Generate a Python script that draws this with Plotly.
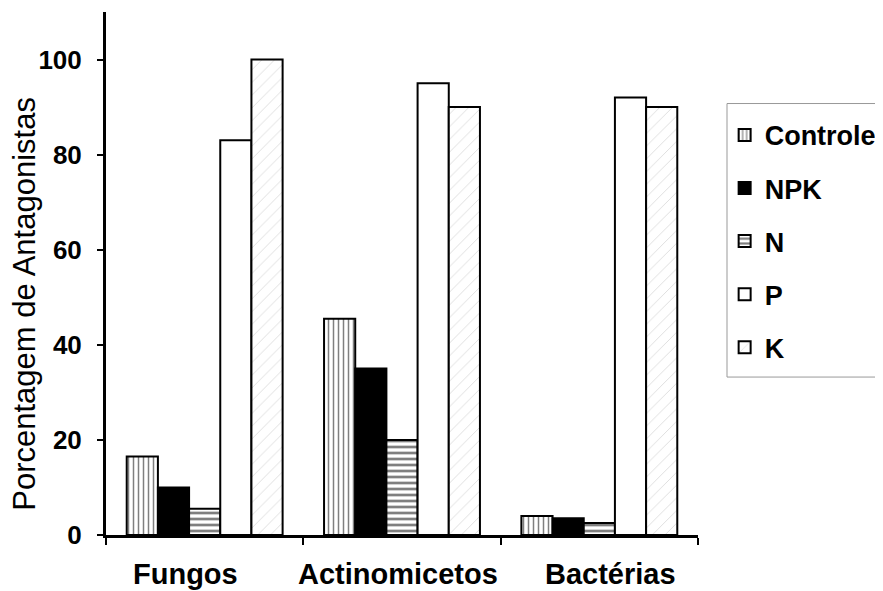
import plotly.graph_objects as go

categories = ["Fungos", "Actinomicetos", "Bactérias"]
series_names = ["Controle", "NPK", "N", "P", "K"]
controle = [16.5, 45.5, 4]
npk = [10, 35, 3.5]
n_vals = [5.5, 20, 2.5]
p_vals = [83, 95, 92]
k_vals = [100, 90, 90]
y_ticks = [0, 20, 40, 60, 80, 100]
y_title = "Porcentagem de Antagonistas"

series_values = [controle, npk, n_vals, p_vals, k_vals]
styles = [
    dict(color="white", pattern=dict(shape="|", fgcolor="black", size=5, solidity=0.3)),
    dict(color="black"),
    dict(color="white", pattern=dict(shape="-", fgcolor="black", size=6, solidity=0.45)),
    dict(color="white"),
    dict(color="white", pattern=dict(shape="/", fgcolor="#b8b8b8", size=9, solidity=0.1)),
]

FONT = "Arial, Liberation Sans, sans-serif"

fig = go.Figure()
for name, vals, st in zip(series_names, series_values, styles):
    fig.add_trace(go.Bar(
        x=categories, y=vals, name=name, legendgroup=name,
        marker=dict(line=dict(color="black", width=2), **st),
    ))

# category labels drawn as annotations (slightly spread like the original)
label_shift = [-19, -4, 11]
annotations = [dict(
    text=y_title, xref="paper", yref="paper", x=-0.137, y=0.442,
    xanchor="center", yanchor="middle", textangle=-90, showarrow=False,
    font=dict(size=31, family=FONT, color="black"),
)]
for cat, sh in zip(categories, label_shift):
    annotations.append(dict(
        text=f"<b>{cat}</b>", xref="x", yref="paper", x=cat, y=0,
        xanchor="center", yanchor="top", xshift=sh, yshift=-21, showarrow=False,
        font=dict(size=29, family=FONT, color="black"),
    ))

fig.update_layout(
    width=883, height=591,
    barmode="group", bargap=0.21, bargroupgap=0,
    plot_bgcolor="white", paper_bgcolor="white",
    font=dict(family=FONT, color="black"),
    margin=dict(l=98, r=193, t=4, b=64, autoexpand=False),
    legend=dict(
        x=1.045, y=0.811, xanchor="left", yanchor="top",
        borderwidth=0, bgcolor="rgba(0,0,0,0)",
        font=dict(size=27, color="black", family=FONT, weight="bold"),
        tracegroupgap=15,
    ),
    showlegend=True,
    shapes=[dict(
        type="rect", xref="paper", yref="paper",
        x0=1.049, x1=1.35, y0=0.302, y1=0.825,
        line=dict(color="#999999", width=1), fillcolor="rgba(0,0,0,0)", layer="below",
    )],
    annotations=annotations,
)
fig.update_yaxes(
    range=[0, 110], tickvals=y_ticks, showgrid=False, zeroline=False,
    showline=True, linecolor="black", linewidth=3,
    ticks="outside", ticklen=6, tickwidth=2, tickcolor="black",
    ticklabelstandoff=10,
    tickfont=dict(size=26, family=FONT, weight="bold"),
)
fig.update_xaxes(
    showgrid=False, showline=True, linecolor="black", linewidth=3,
    ticks="outside", tickson="boundaries", ticklen=7, tickwidth=2, tickcolor="black",
    showticklabels=False,
)
fig.write_html("out.html")
